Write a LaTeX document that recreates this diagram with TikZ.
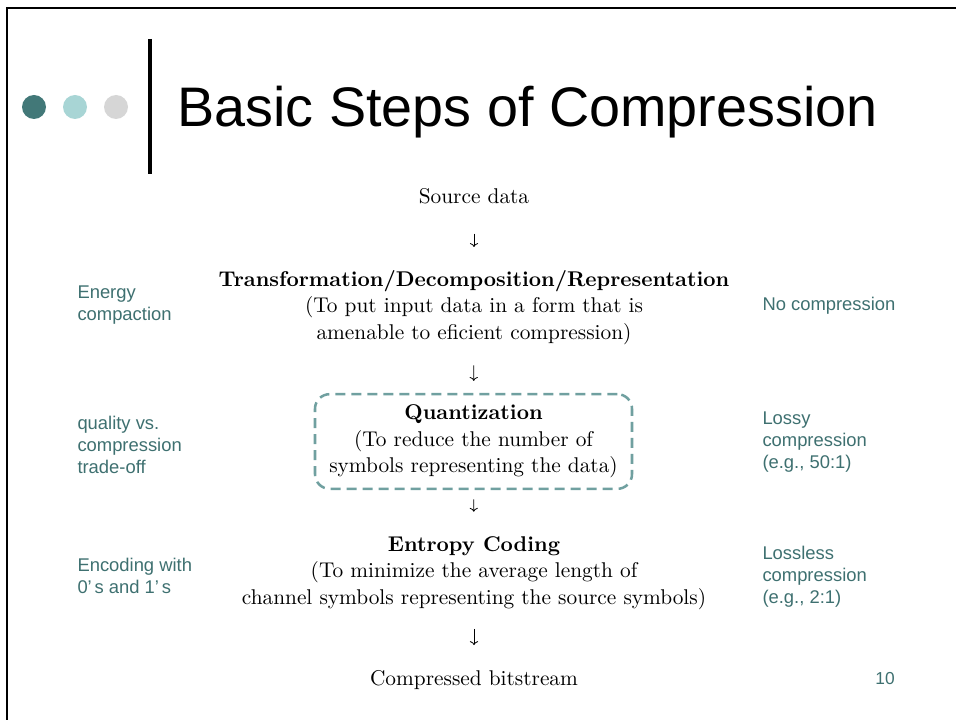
\documentclass[tikz,border=0pt]{standalone}
\usepackage{fontspec}
\newfontfamily\slidefont{Liberation Sans}
\newfontfamily\stepfont{lmroman10}[Extension=.otf, UprightFont=*-regular, BoldFont=*-bold]
\usetikzlibrary{arrows.meta}

\definecolor{dotdark}{RGB}{66,120,120}
\definecolor{dotlight}{RGB}{168,213,213}
\definecolor{dotgrey}{RGB}{214,214,214}
\definecolor{noteteal}{RGB}{62,112,112}
\definecolor{boxteal}{RGB}{112,160,160}

\tikzset{every picture/.style={line width=0.75pt}}
\tikzset{
  stepnode/.style={inner sep=0pt, align=center, font=\stepfont\fontsize{16}{20}\selectfont},
  notenode/.style={inner sep=0pt, align=left, anchor=west, text=noteteal, font=\slidefont\fontsize{13.8}{16.5}\selectfont},
  flow/.style={line width=0.6pt, -{Computer Modern Rightarrow}}
}

\begin{document}
\begin{tikzpicture}[x=0.75pt,y=0.75pt,yscale=-1,xscale=1]
    \useasboundingbox (0,0) rectangle (956,720);

    %Straight Lines [id:frame]
    \draw[line width=1.6pt] (7,720) -- (7,8) -- (956,8) ;
    %Shape: Circle [id:dots]
    \fill[dotdark] (34,107) circle (12) ;
    \fill[dotlight] (75,107) circle (12) ;
    \fill[dotgrey] (116,107) circle (12) ;
    %Straight Lines [id:titlebar]
    \draw[line width=3pt] (150,39) -- (150,174) ;
    %Title
    \node[inner sep=0pt, anchor=base west, font=\slidefont\fontsize{41.8}{48}\selectfont] (title) at (177,127) {Basic Steps of Compression};

    %Steps
    \node[stepnode] (src) at (474,196) {Source data};
    \node[stepnode] (trans) at (474,307.5) {\textbf{Transformation/Decomposition/Representation}\\(To put input data in a form that is\\amenable to eficient compression)};
    \node[stepnode, draw=boxteal, line width=1.9pt, dash pattern=on 7.5pt off 4.5pt, rounded corners=11pt, minimum width=237.75pt, minimum height=71pt] (quant) at (473.5,441.5) {\textbf{Quantization}\\(To reduce the number of\\symbols representing the data)};
    \node[stepnode] (entropy) at (474,573) {\textbf{Entropy Coding}\\(To minimize the average length of\\channel symbols representing the source symbols)};
    \node[stepnode] (out) at (474,680.5) {Compressed bitstream};

    %Arrows
    \draw[flow, shorten <=22pt, shorten >=17pt] (src) -- (trans) ;
    \draw[flow, shorten <=15pt, shorten >=9pt] (trans) -- (quant) ;
    \draw[flow, shorten <=7pt, shorten >=18pt] (quant) -- (entropy) ;
    \draw[flow, shorten <=14pt, shorten >=19pt] (entropy) -- (out) ;

    %Notes left
    \node[notenode] (energy) at (77,305.5) {Energy\\compaction};
    \node[notenode] (quality) at (77,445) {quality vs.\\compression\\trade-off};
    \node[notenode] (encoding) at (77,575.5) {Encoding with\\0’\hspace{0.15em}s and 1’\hspace{0.15em}s};
    %Notes right
    \node[notenode] (nocomp) at (762,306) {No compression};
    \node[notenode] (lossy) at (762,442) {Lossy\\compression\\(e.g., 50:1)};
    \node[notenode] (lossless) at (762,576.5) {Lossless\\compression\\(e.g., 2:1)};

    %Page number
    \node[inner sep=0pt, text=noteteal, font=\slidefont\fontsize{13}{16}\selectfont] (pagenum) at (885,679) {10};

\end{tikzpicture}
\end{document}
